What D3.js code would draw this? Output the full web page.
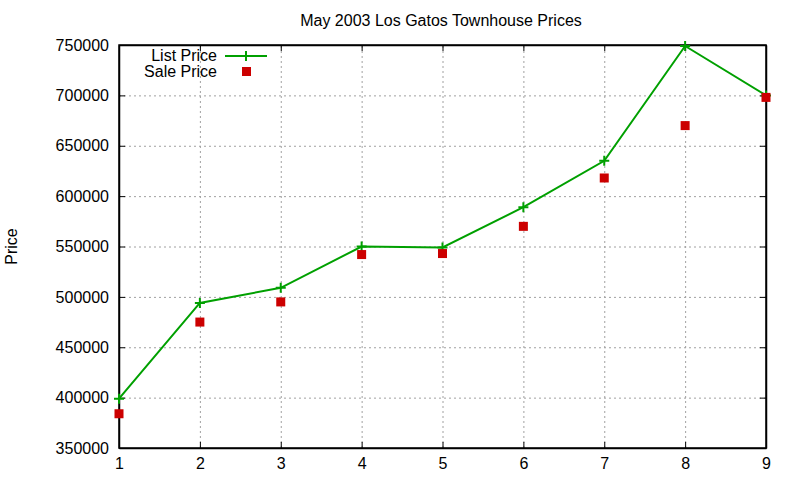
<!DOCTYPE html>
<html>
<head>
    <meta charset="utf-8">
    <title>May 2003 Los Gatos Townhouse Prices</title>
    <style>
        body { margin: 0; background: #fff; }
        svg text { font-family: "Liberation Sans", Arial, sans-serif; fill: #000; }
    </style>
</head>
<body>
    <script src="https://d3js.org/d3.v7.min.js"></script>
    <script>
        // data
        var houses = [1, 2, 3, 4, 5, 6, 7, 8, 9];
        var listPrice = [399000, 494000, 509000, 550000, 549000, 589000, 635000, 749000, 700000];
        var salePrice = [384000, 475000, 495000, 542000, 543000, 570000, 618000, 670000, 698000];
        var yTicks = [350000, 400000, 450000, 500000, 550000, 600000, 650000, 700000, 750000];

        var width = 800, height = 480;
        var margin = {top: 45, right: 34, bottom: 32, left: 119};
        var green = "#00a000", red = "#cc0000";

        var svg = d3.select("body").append("svg")
            .attr("width", width)
            .attr("height", height);

        var x = d3.scaleLinear()
            .domain([1, 9])
            .range([margin.left, width - margin.right]);

        var y = d3.scaleLinear()
            .domain([350000, 750000])
            .range([height - margin.bottom, margin.top]);

        // grid
        var grid = svg.append("g").attr("class", "grid");
        grid.selectAll("line.gx")
            .data(houses.slice(1, -1))
            .enter().append("line")
            .attr("x1", d => x(d) + 0.5).attr("x2", d => x(d) + 0.5)
            .attr("y1", y(350000)).attr("y2", y(750000))
            .attr("stroke", "#a0a0a0").attr("stroke-dasharray", "2,3");
        grid.selectAll("line.gy")
            .data(yTicks.slice(1, -1))
            .enter().append("line")
            .attr("y1", d => y(d) + 0.5).attr("y2", d => y(d) + 0.5)
            .attr("x1", x(1)).attr("x2", x(9))
            .attr("stroke", "#a0a0a0").attr("stroke-dasharray", "2,3");

        // axes (gnuplot style, ticks inward and mirrored)
        var xAxis = d3.axisBottom(x).tickValues(houses).tickSizeInner(-6).tickSizeOuter(0).tickPadding(10);
        var yAxis = d3.axisLeft(y).tickValues(yTicks).tickFormat(d3.format("d"))
            .tickSizeInner(-6).tickSizeOuter(0).tickPadding(10);

        svg.append("g")
            .attr("transform", "translate(0," + (height - margin.bottom) + ")")
            .call(xAxis)
            .call(g => g.selectAll("text").attr("font-size", 16).attr("dy", "0.7em"));
        svg.append("g")
            .attr("transform", "translate(" + margin.left + ",0)")
            .call(yAxis)
            .call(g => g.selectAll("text").attr("font-size", 16));
        svg.append("g")
            .attr("transform", "translate(0," + margin.top + ")")
            .call(d3.axisTop(x).tickValues(houses).tickSizeInner(-6).tickSizeOuter(0).tickFormat(""));
        svg.append("g")
            .attr("transform", "translate(" + (width - margin.right) + ",0)")
            .call(d3.axisRight(y).tickValues(yTicks).tickSizeInner(-6).tickSizeOuter(0).tickFormat(""));
        svg.selectAll(".domain").attr("stroke", "#000").attr("stroke-width", 1.5);
        svg.selectAll(".tick line").attr("stroke", "#000");

        svg.append("rect")
            .attr("x", x(1)).attr("y", y(750000))
            .attr("width", x(9) - x(1)).attr("height", y(350000) - y(750000))
            .attr("fill", "none").attr("stroke", "#000").attr("stroke-width", 1.5);

        // list price line
        var line = d3.line()
            .x((d, i) => x(houses[i]))
            .y(d => y(d));

        svg.append("path")
            .datum(listPrice)
            .attr("d", line)
            .attr("fill", "none")
            .attr("stroke", green)
            .attr("stroke-width", 2);

        function plusMark(sel) {
            sel.append("path")
                .attr("d", "M-5,0H5M0,-5V5")
                .attr("stroke", green).attr("stroke-width", 2).attr("fill", "none");
        }
        svg.selectAll("g.lp")
            .data(listPrice)
            .enter().append("g")
            .attr("transform", (d, i) => "translate(" + x(houses[i]) + "," + y(d) + ")")
            .call(plusMark);

        svg.selectAll("rect.sp")
            .data(salePrice)
            .enter().append("rect")
            .attr("x", (d, i) => x(houses[i]) - 4.5)
            .attr("y", d => y(d) - 4.5)
            .attr("width", 9).attr("height", 9)
            .attr("fill", red);

        // title and axis label
        svg.append("text")
            .attr("x", 441).attr("y", 26)
            .attr("text-anchor", "middle")
            .attr("font-size", 16)
            .text("May 2003 Los Gatos Townhouse Prices");

        svg.append("text")
            .attr("transform", "translate(17," + ((margin.top + height - margin.bottom) / 2) + ") rotate(-90)")
            .attr("text-anchor", "middle")
            .attr("font-size", 16)
            .text("Price");

        // legend
        var legend = svg.append("g");
        legend.append("text")
            .attr("x", 217).attr("y", 61)
            .attr("text-anchor", "end").attr("font-size", 16)
            .text("List Price");
        legend.append("line")
            .attr("x1", 225).attr("x2", 267).attr("y1", 56).attr("y2", 56)
            .attr("stroke", green).attr("stroke-width", 2);
        legend.append("g")
            .attr("transform", "translate(246,56)")
            .call(plusMark);
        legend.append("text")
            .attr("x", 217).attr("y", 77)
            .attr("text-anchor", "end").attr("font-size", 16)
            .text("Sale Price");
        legend.append("rect")
            .attr("x", 242).attr("y", 67).attr("width", 9).attr("height", 9)
            .attr("fill", red);
    </script>
</body>
</html>
